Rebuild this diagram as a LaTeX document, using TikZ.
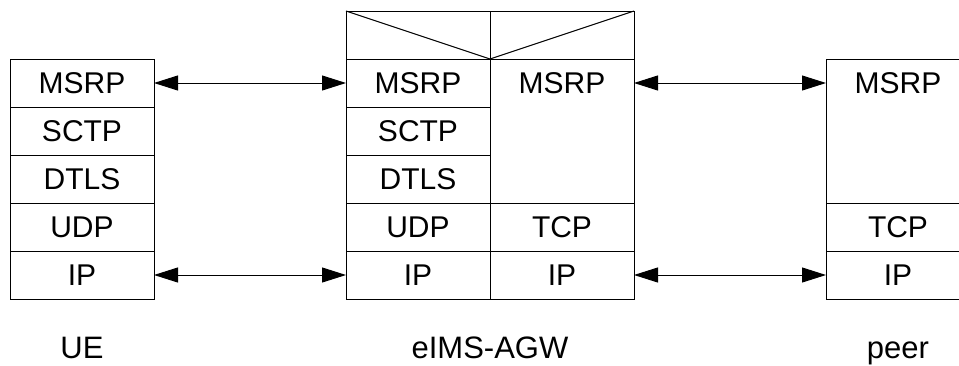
\documentclass[tikz,border=0pt]{standalone}
\usepackage{fontspec}
\setmainfont{Liberation Sans}
\usetikzlibrary{arrows.meta,positioning}

\begin{document}
\begin{tikzpicture}[x=1pt,y=1pt]

		\tikzset{line/.style={draw,line width=1pt}}
		\tikzset{cell/.style={line,rectangle,inner sep=0pt,outer sep=0pt,minimum width=144pt,minimum height=48pt,text height=21.5pt,text depth=0pt,font=\fontsize{30}{30}\selectfont}}
		\tikzset{bare/.style={cell,draw=none}}
		\tikzset{lbl/.style={inner sep=0pt,outer sep=0pt,text height=22pt,text depth=0pt,font=\fontsize{31}{31}\selectfont}}
		\tikzset{biarrow/.style={line,{Triangle[length=24pt,width=15pt]}-{Triangle[length=24pt,width=15pt]}}}

		\useasboundingbox (0,0) rectangle (959,-365);

		% UE stack
		\node[cell] (ue1) at (82,-83) {MSRP};
		\node[cell, below=0pt of ue1] (ue2) {SCTP};
		\node[cell, below=0pt of ue2] (ue3) {DTLS};
		\node[cell, below=0pt of ue3] (ue4) {UDP};
		\node[cell, below=0pt of ue4] (ue5) {IP};

		% eIMS-AGW, left half
		\node[cell] (agwL1) at (418,-83) {MSRP};
		\node[cell, below=0pt of agwL1] (agwL2) {SCTP};
		\node[cell, below=0pt of agwL2] (agwL3) {DTLS};
		\node[cell, below=0pt of agwL3] (agwL4) {UDP};
		\node[cell, below=0pt of agwL4] (agwL5) {IP};

		% eIMS-AGW, right half
		\node[bare, right=0pt of agwL1] (agwR1) {MSRP};
		\node[cell, right=0pt of agwL4] (agwR4) {TCP};
		\node[cell, right=0pt of agwL5] (agwR5) {IP};
		\draw[line] (agwR1.north west) rectangle (agwR4.north east);

		% header
		\node[line, rectangle, inner sep=0pt, outer sep=0pt, minimum width=288pt, minimum height=48pt, anchor=south west] (hdr) at (agwL1.north west) {};
		\draw[line] (hdr.north west) -- (hdr.south) -- (hdr.north east);
		\draw[line] (hdr.north) -- (hdr.south);

		% peer stack
		\node[bare] (peer1) at (898,-83) {MSRP};
		\node[cell, below=96pt of peer1] (peer4) {TCP};
		\node[cell, below=0pt of peer4] (peer5) {IP};
		\draw[line] (peer1.north west) rectangle (peer4.north east);

		% peer links
		\draw[biarrow] (ue1) -- (agwL1);
		\draw[biarrow] (ue5) -- (agwL5);
		\draw[biarrow] (agwR1) -- (peer1);
		\draw[biarrow] (agwR5) -- (peer5);

		\node[lbl, below=37pt of ue5] (ue) {UE};
		\node[lbl, below=37pt of hdr.south |- agwL5.south] (agw) {eIMS-AGW};
		\node[lbl, below=37pt of peer5] (peer) {peer};

	\end{tikzpicture}
\end{document}
